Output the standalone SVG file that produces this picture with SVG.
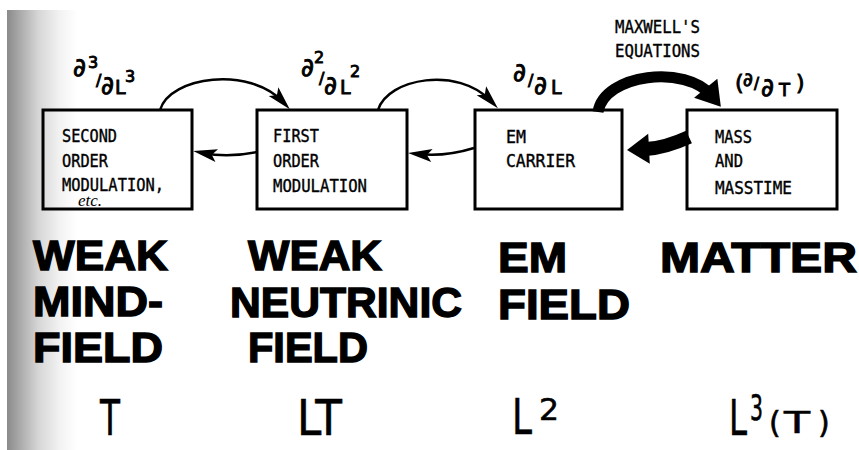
<svg xmlns="http://www.w3.org/2000/svg" width="859" height="450" viewBox="0 0 859 450">
<style>
.box{fill:none;stroke:#000;stroke-width:3}
.bx{font-family:"DejaVu Sans Mono","Liberation Mono",monospace;font-size:18px;fill:#000;stroke:#000;stroke-width:0.4}
.hw{font-family:"Liberation Serif",serif;font-style:italic;font-size:17px;fill:#000}
.op{font-family:"DejaVu Sans",sans-serif;fill:#000;stroke:#000;stroke-width:0.9}
.big{font-family:"Liberation Sans",Arial,sans-serif;font-weight:bold;font-size:42px;fill:#000;stroke:#000;stroke-width:1.4}
.dim{font-family:"DejaVu Sans",sans-serif;fill:#000;stroke:#000;stroke-width:0.6}
.thin{fill:none;stroke:#000;stroke-width:2.5}
.thick{fill:none;stroke:#000}
</style>
<defs>
<linearGradient id="scan" x1="0" y1="0" x2="1" y2="0">
<stop offset="0" stop-color="#8a8a8a"/>
<stop offset="0.15" stop-color="#a4a4a4"/>
<stop offset="0.45" stop-color="#d6d6d6"/>
<stop offset="0.75" stop-color="#f2f2f2"/>
<stop offset="1" stop-color="#ffffff"/>
</linearGradient>
<marker id="ah" markerUnits="userSpaceOnUse" markerWidth="26" markerHeight="14" refX="14" refY="6.5" orient="auto" overflow="visible">
<path d="M0,0 L24,6.5 L0,13 L5,6.5 z" fill="#000"/>
</marker>
<marker id="ahBig" markerUnits="userSpaceOnUse" markerWidth="26" markerHeight="30" refX="10" refY="15" orient="auto" overflow="visible">
<path d="M0,0 L24,15 L0,30 z" fill="#000"/>
</marker>
<marker id="ahBack" markerUnits="userSpaceOnUse" markerWidth="24" markerHeight="32" refX="3" refY="15" orient="auto" overflow="visible">
<path d="M0,0 L22,15 L0,30 z" fill="#000"/>
</marker>
</defs>
<rect x="0" y="0" width="859" height="450" fill="#fff"/>
<rect x="7" y="10" width="70" height="440" fill="url(#scan)"/>

<g id="connectors">
<path class="thin" d="M160,110 C170,76 250,66 283,102" marker-end="url(#ah)"/>
<path class="thin" d="M378,110 C388,78 458,66 491,101" marker-end="url(#ah)"/>
<path class="thin" d="M257,152 Q228,158 203,153" marker-end="url(#ah)"/>
<path class="thin" d="M474,148 Q445,157 418,154" marker-end="url(#ah)"/>
<path class="thick" stroke-width="11" d="M598,112 C604,74 686,64 712,96" marker-end="url(#ahBig)"/>
<path class="thick" stroke-width="14" d="M689,137 Q665,148 646,149" marker-end="url(#ahBack)"/>
</g>

<g id="node-second-order">
<rect class="box" x="43" y="110" width="149" height="99"/>
<text class="bx" x="62" y="142" textLength="55" lengthAdjust="spacingAndGlyphs">SECOND</text>
<text class="bx" x="62" y="167" textLength="46" lengthAdjust="spacingAndGlyphs">ORDER</text>
<text class="bx" x="62" y="191" textLength="102" lengthAdjust="spacingAndGlyphs">MODULATION,</text>
<text class="hw" x="78" y="206">etc.</text>
</g>

<g id="node-first-order">
<rect class="box" x="257" y="110" width="150" height="99"/>
<text class="bx" x="273" y="142" textLength="46" lengthAdjust="spacingAndGlyphs">FIRST</text>
<text class="bx" x="273" y="167" textLength="46" lengthAdjust="spacingAndGlyphs">ORDER</text>
<text class="bx" x="273" y="192" textLength="94" lengthAdjust="spacingAndGlyphs">MODULATION</text>
</g>

<g id="node-em-carrier">
<rect class="box" x="475" y="110" width="147" height="99"/>
<text class="bx" x="506" y="143" textLength="20" lengthAdjust="spacingAndGlyphs">EM</text>
<text class="bx" x="506" y="167" textLength="69" lengthAdjust="spacingAndGlyphs">CARRIER</text>
</g>

<g id="node-mass">
<rect class="box" x="687" y="110" width="150" height="99"/>
<text class="bx" x="715" y="143" textLength="37" lengthAdjust="spacingAndGlyphs">MASS</text>
<text class="bx" x="715" y="167" textLength="28" lengthAdjust="spacingAndGlyphs">AND</text>
<text class="bx" x="715" y="194" textLength="77" lengthAdjust="spacingAndGlyphs">MASSTIME</text>
</g>

<g id="edge-labels">
<text class="bx" x="615" y="33" textLength="85" lengthAdjust="spacingAndGlyphs">MAXWELL'S</text>
<text class="bx" x="615" y="57" textLength="85" lengthAdjust="spacingAndGlyphs">EQUATIONS</text>

<text class="op" font-size="25"><tspan x="73" y="76">∂</tspan><tspan x="88" y="68" font-size="16">3</tspan><tspan x="96" y="86" font-size="16">/</tspan><tspan x="101" y="94">∂</tspan><tspan x="115" y="94" font-size="19">L</tspan><tspan x="125" y="82" font-size="16">3</tspan></text>

<text class="op" font-size="25"><tspan x="301" y="76">∂</tspan><tspan x="314" y="63" font-size="16">2</tspan><tspan x="319" y="84" font-size="16">/</tspan><tspan x="324" y="94">∂</tspan><tspan x="340" y="94" font-size="19">L</tspan><tspan x="350" y="77" font-size="16">2</tspan></text>

<text class="op" font-size="25"><tspan x="513" y="81">∂</tspan><tspan x="528" y="86" font-size="16">/</tspan><tspan x="534" y="94">∂</tspan><tspan x="551" y="94" font-size="19">L</tspan></text>

<text class="op" font-size="25"><tspan x="735" y="90" font-size="22">(</tspan><tspan x="743" y="86" font-size="19">∂</tspan><tspan x="754" y="89" font-size="15">/</tspan><tspan x="761" y="96">∂</tspan><tspan x="779" y="96" font-size="18">T</tspan><tspan x="796" y="90" font-size="22">)</tspan></text>
</g>

<g id="field-names">
<text class="big" x="33" y="270" textLength="135" lengthAdjust="spacingAndGlyphs">WEAK</text>
<text class="big" x="33" y="316" textLength="130" lengthAdjust="spacingAndGlyphs">MIND-</text>
<text class="big" x="33" y="362" textLength="130" lengthAdjust="spacingAndGlyphs">FIELD</text>
<text class="big" x="248" y="270" textLength="134" lengthAdjust="spacingAndGlyphs">WEAK</text>
<text class="big" x="230" y="317" textLength="232" lengthAdjust="spacingAndGlyphs">NEUTRINIC</text>
<text class="big" x="248" y="362" textLength="120" lengthAdjust="spacingAndGlyphs">FIELD</text>
<text class="big" x="498" y="272" textLength="69" lengthAdjust="spacingAndGlyphs">EM</text>
<text class="big" x="498" y="319" textLength="132" lengthAdjust="spacingAndGlyphs">FIELD</text>
<text class="big" x="660" y="272" textLength="197" lengthAdjust="spacingAndGlyphs">MATTER</text>
</g>

<g id="dimensions">
<text class="dim" x="100" y="435" font-size="50" textLength="20" lengthAdjust="spacingAndGlyphs">T</text>
<text class="dim" x="297" y="435" font-size="50" textLength="45" lengthAdjust="spacingAndGlyphs">LT</text>
<text class="dim" x="512" y="434" font-size="50" textLength="20" lengthAdjust="spacingAndGlyphs">L</text>
<text class="dim" x="539" y="420" font-size="30" textLength="20" lengthAdjust="spacingAndGlyphs">2</text>
<text class="dim" x="729" y="435" font-size="50" textLength="18" lengthAdjust="spacingAndGlyphs">L</text>
<text class="dim" x="750" y="420" font-size="35" textLength="13" lengthAdjust="spacingAndGlyphs">3</text>
<text class="dim" font-size="30"><tspan x="769" y="433">(</tspan></text>
<text class="dim" x="784" y="433" font-size="30" textLength="26" lengthAdjust="spacingAndGlyphs">T</text>
<text class="dim" font-size="30"><tspan x="818" y="433">)</tspan></text>
</g>
</svg>
